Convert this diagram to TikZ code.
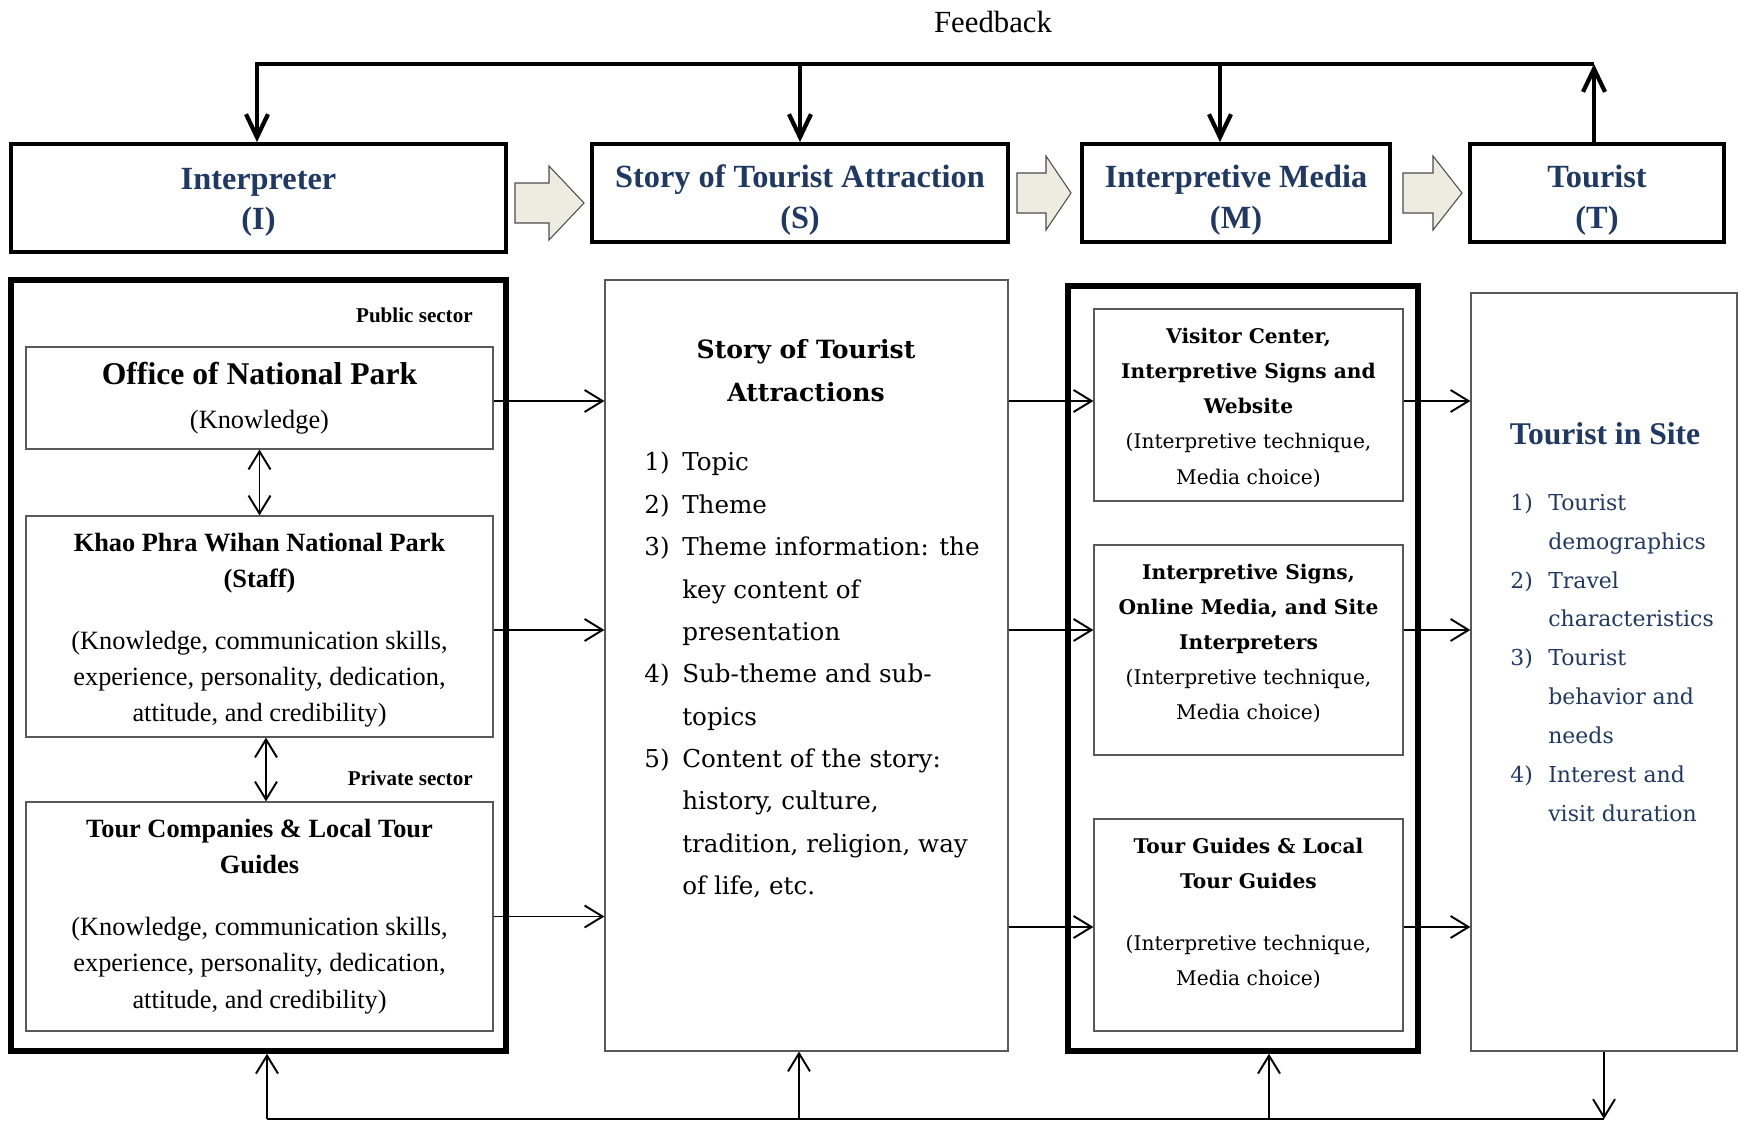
\documentclass[tikz,border=0pt]{standalone}
\usepackage{fontspec}
\setmainfont{Liberation Serif}
\newfontfamily\wideserif{DejaVu Serif}
\usetikzlibrary{arrows.meta,positioning,calc}
\definecolor{navy}{HTML}{1F3864}
\definecolor{arrowfill}{HTML}{EEECE1}

\tikzset{
  headbox/.style={draw, line width=2.2pt, inner sep=0pt, align=center, text=navy,
    font=\fontsize{18.4}{23.3}\selectfont\bfseries},
  groupbox/.style={draw, line width=3.2pt, inner sep=0pt},
  colbox/.style={draw=gray!70!black, line width=0.7pt, inner sep=0pt},
  itembox/.style={draw=gray!70!black, line width=0.7pt, inner sep=0pt, align=center,
    minimum width=9.34cm, font=\fontsize{15}{20.5}\selectfont},
  mediabox/.style={draw=gray!70!black, line width=0.7pt, inner sep=0pt, align=center,
    minimum width=6.18cm, font=\wideserif\fontsize{11.5}{20}\selectfont},
  sector/.style={anchor=east, inner sep=0pt, font=\fontsize{12}{14}\selectfont\bfseries},
  thinline/.style={line width=1.1pt},
  fback/.style={line width=2.4pt},
  fbtip/.style={-{Straight Barb[length=0.46cm,width=0.44cm]}},
  blockarrow/.style={fill=arrowfill, draw=gray!60!black, line width=0.6pt},
  pics/blockarr/.style n args={2}{code={
    \draw[blockarrow] (0,-20) -- (#2,-20) -- (#2,-37) -- (#1,0) -- (#2,37) -- (#2,20) -- (0,20) -- cycle;
  }}
}

\begin{document}
\begin{tikzpicture}[x=0.02cm,y=-0.02cm,>={Straight Barb[length=0.36cm,width=0.44cm]}]
  \useasboundingbox (0,0) rectangle (1745,1121);

  % header row
  \node[headbox, minimum width=9.9cm, minimum height=2.16cm] (interp) at (258.5,198) {\rule{0pt}{17pt}Interpreter\\(I)};
  \node[headbox, minimum width=8.32cm, minimum height=1.96cm] (story) at (800,193) {\rule{0pt}{20.5pt}Story of Tourist Attraction\\(S)};
  \node[headbox, minimum width=6.16cm, minimum height=1.96cm] (media) at (1236,193) {\rule{0pt}{20.5pt}Interpretive Media\\(M)};
  \node[headbox, minimum width=5.08cm, minimum height=1.96cm] (tourist) at (1597,193) {\rule{0pt}{20.5pt}Tourist\\(T)};

  \pic at (515,203) {blockarr={69}{34}};
  \pic at (1017,193) {blockarr={54}{29}};
  \pic at (1403,193) {blockarr={59}{30}};

  % feedback loop
  \node (fbtext) at (993,22) {\fontsize{17.5}{20}\selectfont Feedback};
  \coordinate (fbl) at (257,64);
  \coordinate (fbm) at (1220,64);
  \coordinate (fbr) at (1594,64);
  \draw[fback, fbtip] (fbr) -- (fbl) -- (fbl |- interp.north);
  \draw[fback, fbtip] (story.north |- fbl) -- (story.north);
  \draw[fback, fbtip] (fbm) -- (fbm |- media.north);
  \draw[fback, fbtip] (fbr |- tourist.north) -- (fbr);

  % interpreter column
  \node[groupbox, minimum width=9.9cm, minimum height=15.42cm] (igroup) at (258.5,665.5) {};
  \node[sector] (public) at (473,315) {Public sector};
  \node[itembox, minimum height=2.04cm] (office) at (259.5,398)
    {{\fontsize{18}{21}\selectfont\bfseries Office of National Park}\\[4.6pt](Knowledge)};
  \node[itembox, minimum height=4.42cm] (khao) at (259.5,626.5)
    {\rule{0pt}{14.8pt}\textbf{Khao Phra Wihan National Park}\\\textbf{(Staff)}\\[15pt]%
     (Knowledge, communication skills,\\experience, personality, dedication,\\attitude, and credibility)};
  \node[sector] (private) at (473,778) {Private sector};
  \node[itembox, minimum height=4.58cm] (tourco) at (259.5,916.5)
    {\textbf{Tour Companies \& Local Tour}\\\textbf{Guides}\\[15pt]%
     (Knowledge, communication skills,\\experience, personality, dedication,\\attitude, and credibility)};
  \draw[<->, thinline] (office.south) -- (khao.north);
  \draw[<->, thinline] ([xshift=0.13cm]khao.south) -- ([xshift=0.13cm]tourco.north);

  % story column
  \node[colbox, minimum width=8.06cm, minimum height=15.42cm] (sgroup) at (806.5,665.5) {};
  \node[align=center, font=\wideserif\bfseries\fontsize{14.3}{24.5}\selectfont] (stitle) at (806,371)
    {Story of Tourist\\Attractions};
  \node[anchor=base west, inner sep=0pt, font=\wideserif\fontsize{14}{24.1}\selectfont] (slist) at (644,471)
    {\begin{tabular}[t]{@{}p{21.6pt}@{}l@{}}
      1) & Topic\\
      2) & Theme\\
      3) & Theme information: the\\
         & key content of\\
         & presentation\\
      4) & Sub-theme and sub-\\
         & topics\\
      5) & Content of the story:\\
         & history, culture,\\
         & tradition, religion, way\\
         & of life, etc.
     \end{tabular}};

  % media column
  \node[groupbox, minimum width=7cm, minimum height=15.3cm] (mgroup) at (1243,668.5) {};
  \node[mediabox, minimum height=3.84cm] (vcenter) at (1248.5,405)
    {\rule{0pt}{11.8pt}\textbf{Visitor Center,}\\\textbf{Interpretive Signs and}\\\textbf{Website}\\(Interpretive technique,\\Media choice)};
  \node[mediabox, minimum height=4.2cm, text depth=0.33cm] (isigns) at (1248.5,650)
    {\textbf{Interpretive Signs,}\\\textbf{Online Media, and Site}\\\textbf{Interpreters}\\(Interpretive technique,\\Media choice)};
  \node[mediabox, minimum height=4.24cm, text depth=0.52cm] (guides) at (1248.5,925)
    {\textbf{Tour Guides \& Local}\\\textbf{Tour Guides}\\[15pt](Interpretive technique,\\Media choice)};

  % tourist column
  \node[colbox, minimum width=5.32cm, minimum height=15.16cm] (tgroup) at (1604,672) {};
  \node[text=navy, font=\fontsize{18}{20}\selectfont\bfseries] (ttitle) at (1605,434) {Tourist in Site};
  \node[anchor=base west, inner sep=0pt, text=navy, font=\wideserif\fontsize{12.5}{22.1}\selectfont] (tlist) at (1510,510.5)
    {\begin{tabular}[t]{@{}p{21.6pt}@{}l@{}}
      1) & Tourist\\
         & demographics\\
      2) & Travel\\
         & characteristics\\
      3) & Tourist\\
         & behavior and\\
         & needs\\
      4) & Interest and\\
         & visit duration
     \end{tabular}};

  % flows between columns
  \coordinate (rowa) at (0,401);
  \coordinate (rowb) at (0,630);
  \coordinate (rowc) at (0,927);
  \draw[->, thinline] (office.east |- rowa) -- (sgroup.west |- rowa);
  \draw[->, thinline] (khao.east |- rowb) -- (sgroup.west |- rowb);
  \draw[->, thinline] (tourco.east) -- (sgroup.west |- tourco.east);
  \draw[->, thinline] (sgroup.east |- rowa) -- (vcenter.west |- rowa);
  \draw[->, thinline] (sgroup.east |- rowb) -- (isigns.west |- rowb);
  \draw[->, thinline] (sgroup.east |- rowc) -- (guides.west |- rowc);
  \draw[->, thinline] (vcenter.east |- rowa) -- (tgroup.west |- rowa);
  \draw[->, thinline] (isigns.east |- rowb) -- (tgroup.west |- rowb);
  \draw[->, thinline] (guides.east |- rowc) -- (tgroup.west |- rowc);

  % return line at the bottom
  \coordinate (bl) at (267,1119);
  \coordinate (bs) at (799,1119);
  \coordinate (bm) at (1269,1119);
  \coordinate (br) at (1604,1119);
  \draw[thinline] (bl) -- (br);
  \draw[->, thinline] (bl) -- (bl |- igroup.south);
  \draw[->, thinline] (bs) -- (bs |- sgroup.south);
  \draw[->, thinline] (bm) -- (bm |- mgroup.south);
  \draw[->, thinline] (tgroup.south) -- (br);
\end{tikzpicture}
\end{document}
